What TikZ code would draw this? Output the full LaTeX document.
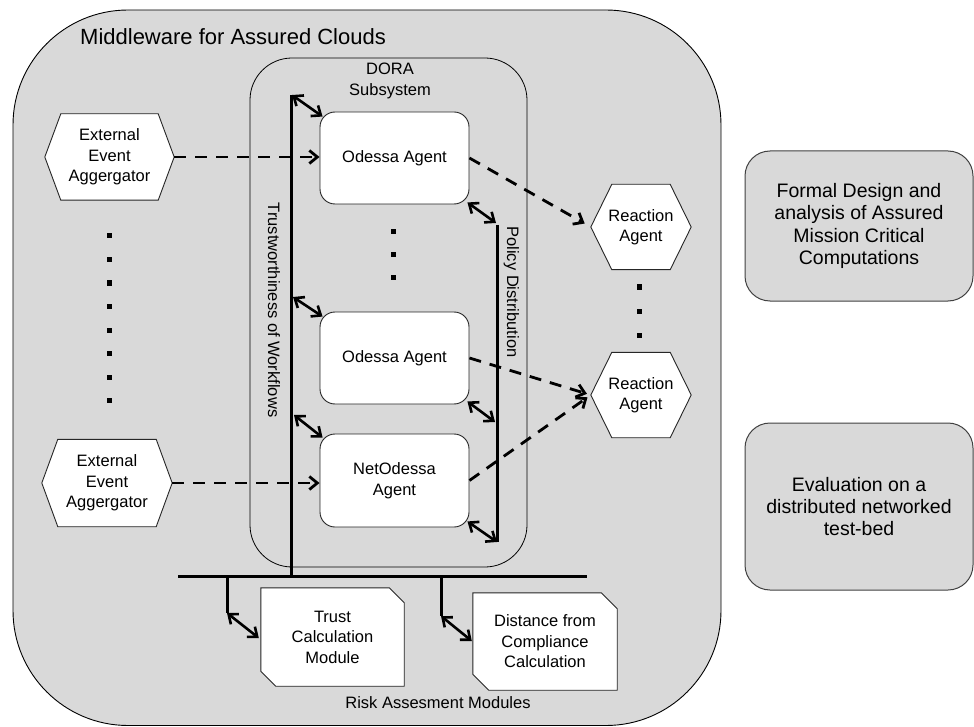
\documentclass[tikz,border=0pt]{standalone}
\usepackage{fontspec}
\setmainfont{Liberation Sans}
\usetikzlibrary{arrows.meta,calc}
\definecolor{panel}{HTML}{D9D9D9}
\pgfdeclarelayer{back}
\pgfdeclarelayer{bg}
\pgfsetlayers{back,bg,main}
\newcommand{\hexdraw}[2]{%
  \begin{pgfonlayer}{bg}
  \draw[shapeline, fill=white] (#1.west) -- ($(#1.north west)+(#2,0)$) -- ($(#1.north east)+(-#2,0)$) -- (#1.east) -- ($(#1.south east)+(-#2,0)$) -- ($(#1.south west)+(#2,0)$) -- cycle;
  \end{pgfonlayer}}
\newcommand{\cutdraw}[2]{%
  \begin{pgfonlayer}{bg}
  \draw[shapeline, fill=white] (#1.north west) -- ($(#1.north east)+(-#2,0)$) -- ($(#1.north east)+(0,#2)$) -- (#1.south east) -- ($(#1.south west)+(#2,0)$) -- ($(#1.south west)+(0,-#2)$) -- cycle;
  \end{pgfonlayer}}
\begin{document}
\begin{tikzpicture}[x=1pt,y=-1pt,
  txt/.style={font=\fontsize{16.5}{20.5}\selectfont, align=center, inner sep=0pt},
  shapeline/.style={line width=0.9pt, draw=black!85},
  agent/.style={txt, shapeline, fill=white, rounded corners=15pt},
  sidebox/.style={font=\fontsize{19.5}{22.3}\selectfont, align=center, inner sep=0pt, draw=black!75, line width=1pt, fill=panel, rounded corners=25pt, minimum width=228pt},
  bus/.style={line width=3pt},
  dbl/.style={line width=2.6pt, {Straight Barb[length=8pt,width=13pt]}-{Straight Barb[length=8pt,width=13pt]}},
  flow/.style={line width=2.8pt, dash pattern=on 12pt off 9pt, -{Straight Barb[length=8pt,width=13pt]}},
  dotmark/.style={fill=black},
]
\useasboundingbox (0,0) rectangle (974,727);

% outer panel
\begin{pgfonlayer}{back}
\draw[fill=panel, line width=0.9pt, rounded corners=115pt] (13,10) rectangle (721,725.5);
\draw[line width=0.8pt, rounded corners=42pt] (250,58) rectangle (527,567);
\end{pgfonlayer}
\node[anchor=base west, font=\fontsize{22}{26}\selectfont, inner sep=0pt] (title) at (80,45) {Middleware for Assured Clouds};

\node[txt] (dora) at (390,81) {DORA\\Subsystem};

% agents
\node[agent, minimum width=149pt, minimum height=92pt] (oa1) at (394.5,158) {Odessa Agent};
\node[agent, minimum width=149pt, minimum height=92pt] (oa2) at (394.5,358) {Odessa Agent};
\node[agent, minimum width=149pt, minimum height=93pt] (noa) at (394.5,480.5) {NetOdessa\\Agent};

% external event aggregators
\node[txt, minimum width=129pt, minimum height=86pt] (ext1) at (109.5,157) {External\\Event\\Aggergator};
\hexdraw{ext1}{16}
\node[txt, minimum width=130pt, minimum height=87pt] (ext2) at (107,483) {External\\Event\\Aggergator};
\hexdraw{ext2}{16}

% reaction agents
\node[txt, minimum width=100pt, minimum height=85pt] (ra1) at (641,227) {Reaction\\Agent};
\hexdraw{ra1}{21}
\node[txt, minimum width=100pt, minimum height=85pt] (ra2) at (641,395) {Reaction\\Agent};
\hexdraw{ra2}{21}

% risk modules
\node[txt, minimum width=143pt, minimum height=98pt] (tcm) at (332.5,637) {Trust\\Calculation\\Module};
\cutdraw{tcm}{15}
\node[txt, minimum width=144pt, minimum height=97pt] (dcc) at (545,641.5) {Distance from\\Compliance\\Calculation};
\cutdraw{dcc}{16}
\node[txt] (risk) at (438,703) {Risk Assesment Modules};

% side boxes
\node[sidebox, minimum height=150pt] (fd) at (859,226) {Formal Design and\\analysis of Assured\\Mission Critical\\Computations};
\node[sidebox, minimum height=167pt] (ev) at (859,506.5) {Evaluation on a\\distributed networked\\test-bed};

% dots
\foreach \yy in {236,259.5,283,306.5,330,353.5,377,400.5}
  \fill[dotmark] (106.5,\yy-2.5) rectangle +(5,5);
\foreach \yy in {232,255,278}
  \fill[dotmark] (390.5,\yy-2.5) rectangle +(5,5);
\foreach \yy in {287,311,335}
  \fill[dotmark] (636.5,\yy-2.5) rectangle +(5,5);

% buses
\coordinate (tTop) at (291,95);
\coordinate (tBot) at (291,576);
\coordinate (hL) at (178,576);
\coordinate (hR) at (587,576);
\coordinate (pTop) at (497,225);
\coordinate (pBot) at (497,542);
\coordinate (r1a) at (227,576);
\coordinate (r1b) at (227,613);
\coordinate (r2a) at (441,576);
\coordinate (r2b) at (441,616);
\draw[bus] (tTop) -- (tBot);
\draw[bus] (hL) -- (hR);
\draw[bus] (pTop) -- (pBot);
\draw[bus] ($(r1a)+(0,-1)$) -- (r1b);
\draw[bus] ($(r2a)+(0,-1)$) -- (r2b);

\node[txt, rotate=-90] (trustlbl) at (274,310) {Trustworthiness of Workflows};
\node[txt, rotate=-90] (policylbl) at (511.5,292) {Policy Distribution};

% trust double arrows
\coordinate (t2) at (293,297);
\coordinate (t3) at (294,415);
\draw[dbl] ($(tTop)+(1,0)$) -- ($(oa1.north west)+(3,5)$);
\draw[dbl] (t2) -- ($(oa2.north west)+(3,5)$);
\draw[dbl] (t3) -- ($(noa.north west)+(3,4)$);

% policy double arrows
\coordinate (p1) at (496,223);
\coordinate (p2) at (495,422);
\draw[dbl] ($(oa1.south east)+(-2,-2)$) -- (p1);
\draw[dbl] ($(oa2.south east)+(-2,-3)$) -- (p2);
\draw[dbl] ($(noa.south east)+(-2,-6)$) -- (pBot);

% risk double arrows
\draw[dbl] (r1b) -- ($(tcm.west)+(-2,1)$);
\draw[dbl] (r2b) -- ($(dcc.west)+(-1,-0.5)$);

% dashed flows
\draw[flow] (ext1.east) -- (ext1.east -| oa1.west);
\draw[flow] (ext2.east) -- (ext2.east -| noa.west);
\draw[flow, shorten >=7pt] (oa1.east) -- (ra1.west);
\draw[flow, shorten >=4pt] (oa2.east) -- (ra2.west);
\draw[flow, shorten >=4pt] (noa.east) -- (ra2.west);
\end{tikzpicture}
\end{document}
